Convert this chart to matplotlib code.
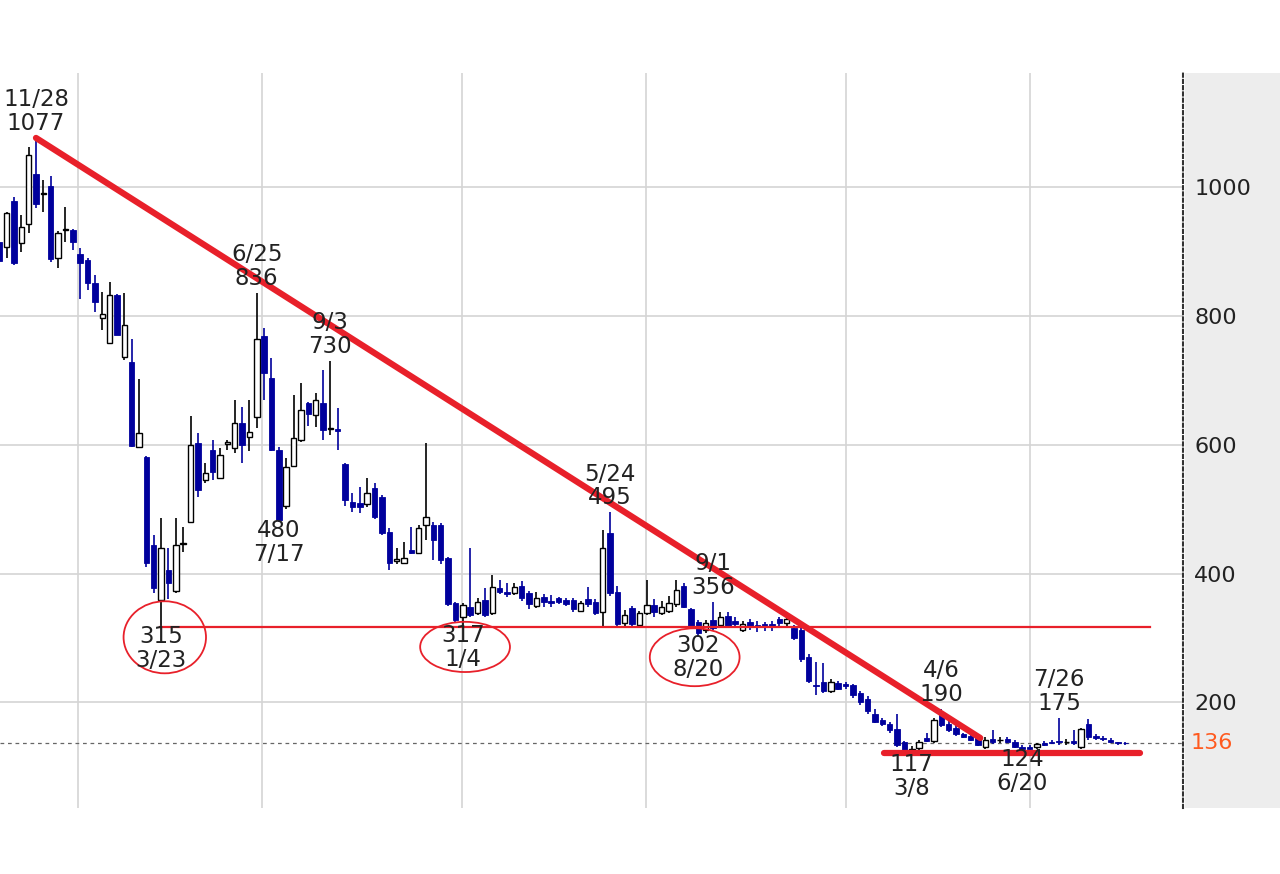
import numpy as np
import matplotlib.pyplot as plt
from matplotlib.patches import Ellipse, Rectangle

# weekly candles (index 0 = week of 2019-10-21)
opens = [915, 908, 979, 914, 943, 1021, 990, 1002, 890, 934, 934, 897, 887, 852, 797, 758, 833, 736, 729, 596,
         581, 444, 359, 405, 373, 446, 480, 603, 545, 592, 549, 601, 595, 634, 612, 643, 769, 704, 592, 505,
         567, 608, 665, 646, 665, 625, 624, 570, 511, 510, 508, 533, 519, 465, 420, 416, 437, 432, 476, 476,
         476, 424, 354, 333, 348, 339, 359, 339, 378, 371, 370, 380, 370, 350, 364, 357, 362, 359, 359, 342,
         360, 356, 340, 463, 372, 323, 346, 320, 339, 351, 339, 342, 352, 381, 345, 325, 312, 328, 320, 334,
         327, 312, 325, 320, 321, 322, 329, 323, 316, 312, 270, 227, 232, 217, 230, 228, 227, 214, 205, 182,
         172, 166, 158, 138, 126, 129, 144, 140, 182, 167, 160, 150, 147, 144, 131, 143, 141, 143, 138, 131,
         131, 130, 137, 139, 140, 138, 140, 131, 167, 147, 145, 142, 138, 137]
highs = [935, 962, 985, 957, 1063, 1077, 1012, 1018, 932, 970, 935, 906, 890, 864, 838, 853, 835, 836, 765, 702,
         583, 460, 486, 440, 486, 472, 645, 618, 572, 608, 595, 608, 670, 659, 670, 836, 782, 735, 596, 580,
         678, 696, 667, 681, 716, 730, 657, 572, 525, 535, 548, 540, 522, 471, 440, 449, 472, 476, 603, 480,
         478, 426, 356, 355, 440, 362, 378, 398, 390, 385, 385, 388, 373, 372, 368, 366, 364, 362, 362, 358,
         379, 360, 468, 495, 380, 343, 350, 342, 390, 360, 358, 365, 390, 386, 347, 328, 328, 356, 340, 340,
         332, 326, 330, 327, 324, 326, 332, 333, 320, 322, 275, 263, 261, 236, 233, 231, 229, 218, 210, 190,
         176, 170, 182, 140, 132, 141, 152, 175, 190, 172, 164, 152, 149, 146, 146, 157, 146, 146, 141, 133,
         134, 136, 140, 142, 175, 143, 157, 160, 174, 150, 147, 144, 139, 138]
lows = [880, 890, 880, 900, 929, 968, 962, 884, 875, 915, 903, 826, 841, 807, 778, 756, 770, 732, 596, 595,
        410, 370, 315, 360, 370, 434, 478, 519, 541, 545, 547, 592, 588, 572, 590, 626, 670, 590, 480, 500,
        565, 605, 630, 628, 608, 615, 592, 505, 496, 494, 503, 485, 460, 405, 415, 415, 430, 430, 452, 421,
        415, 350, 323, 317, 333, 335, 333, 336, 368, 364, 366, 357, 345, 346, 348, 348, 352, 350, 340, 340,
        348, 335, 316, 365, 318, 317, 318, 317, 335, 333, 336, 338, 348, 346, 315, 302, 308, 312, 316, 315,
        318, 309, 312, 309, 310, 311, 318, 318, 296, 262, 230, 211, 214, 214, 219, 220, 207, 196, 182, 168,
        163, 153, 130, 122, 117, 125, 138, 137, 162, 154, 148, 144, 140, 132, 128, 135, 136, 136, 129, 124,
        125, 128, 132, 135, 134, 134, 133, 128, 142, 141, 140, 136, 134, 134]
closes = [885, 960, 883, 939, 1050, 974, 992, 889, 929, 936, 915, 883, 852, 822, 803, 833, 771, 786, 598, 618,
          416, 377, 440, 385, 444, 448, 600, 530, 556, 558, 584, 604, 634, 600, 620, 765, 712, 592, 483, 566,
          611, 654, 648, 670, 623, 627, 622, 514, 503, 503, 525, 488, 463, 416, 422, 424, 432, 471, 488, 452,
          421, 353, 328, 351, 336, 356, 336, 379, 372, 369, 379, 362, 352, 362, 356, 355, 356, 353, 345, 355,
          352, 338, 440, 370, 322, 336, 322, 339, 351, 340, 348, 354, 375, 348, 318, 308, 323, 316, 333, 318,
          322, 322, 318, 318, 318, 318, 323, 330, 300, 268, 233, 226, 218, 232, 221, 226, 212, 200, 187, 170,
          166, 157, 134, 126, 127, 139, 140, 172, 165, 157, 150, 146, 142, 134, 142, 138, 141, 138, 131, 127,
          128, 135, 134, 137, 138, 138, 137, 158, 146, 144, 143, 138, 136, 136]

high_marks = [(5, "11/28"), (35, "6/25"), (45, "9/3"), (83, "5/24"), (97, "9/1"), (128, "4/6"), (144, "7/26")]
low_marks = [(22, "3/23"), (38, "7/17"), (63, "1/4"), (95, "8/20"), (124, "3/8"), (139, "6/20")]

last_price = 136
yticks = [200, 400, 600, 800, 1000]
# first weeks of Jan / Jul
grid_weeks = [10.7, 35.7, 62.9, 87.9, 115.05, 140.05]

trend_line = ([5, 133.3], [1077, 144.5])
support_line = ([21.85, 156.4], [317, 317])
bottom_line = ([120.2, 155.0], [121, 121])
circles = [(22.5, 301, 11.2, 112), (63.3, 286, 12.2, 78), (94.5, 270, 12.2, 90)]

blue = "#00009c"
red = "#e8202a"

fig = plt.figure(figsize=(12.8, 8.74), dpi=100)
ax = fig.add_axes([0, 66 / 874, 1183 / 1280, 735 / 874])
ax.set_zorder(2)
ax.patch.set_alpha(0)
fig.patches.append(Rectangle((1185 / 1280, 66 / 874), 1 - 1185 / 1280, 735 / 874,
                             transform=fig.transFigure, facecolor="#ededed", edgecolor="none", zorder=-1))

x = np.arange(len(opens))
o = np.array(opens); h = np.array(highs); l = np.array(lows); c = np.array(closes)
up = c >= o

# grid
for yt in yticks:
    ax.axhline(yt, color="#d4d4d4", lw=1.2, zorder=0)
for gw in grid_weeks:
    ax.axvline(gw, color="#d4d4d4", lw=1.2, zorder=0)

# wicks and bodies
ax.vlines(x[up], l[up], h[up], color="black", lw=1.2, zorder=2)
ax.vlines(x[~up], l[~up], h[~up], color=blue, lw=1.2, zorder=2)
body = np.maximum(np.abs(c - o), 0.8)
ax.bar(x[up], body[up], bottom=np.minimum(o, c)[up], width=0.74,
       facecolor="white", edgecolor="black", linewidth=1.0, zorder=3)
ax.bar(x[~up], body[~up], bottom=np.minimum(o, c)[~up], width=0.74,
       facecolor=blue, edgecolor=blue, linewidth=0.6, zorder=3)

# last price
ax.axhline(last_price, color="#666666", lw=0.9, ls=(0, (3, 3)), zorder=1)

# red lines
ax.plot(*trend_line, color=red, lw=4.5, solid_capstyle="round", zorder=5)
ax.plot(*support_line, color=red, lw=1.6, zorder=5)
ax.plot(*bottom_line, color=red, lw=4.5, solid_capstyle="round", zorder=5)
for cx, cy, w, hh in circles:
    ax.add_patch(Ellipse((cx, cy), w, hh, fill=False, edgecolor=red, lw=1.3, zorder=5))

# labels
for i, d in high_marks:
    ax.annotate(f"{d}\n{highs[i]}", (i, highs[i]), xytext=(0, 3), textcoords="offset pixels",
                ha="center", va="bottom", fontsize=16.5, linespacing=1.05, color="#222222", zorder=6)
for i, d in low_marks:
    ax.annotate(f"{lows[i]}\n{d}", (i, lows[i]), xytext=(0, 3), textcoords="offset pixels",
                ha="center", va="top", fontsize=16.5, linespacing=1.05, color="#222222", zorder=6)

ax.set_xlim(0.11, 160.85)
ax.set_ylim(35.7, 1177.9)
ax.set_xticks([])
ax.yaxis.tick_right()
ax.set_yticks(yticks)
ax.tick_params(axis="y", length=0, pad=8, labelsize=16, labelcolor="#222222")
for s in ["top", "bottom", "left"]:
    ax.spines[s].set_visible(False)
ax.spines["right"].set_linestyle((0, (1.5, 1.5)))
ax.spines["right"].set_linewidth(1.5)
ax.spines["right"].set_color("#333333")
ax.annotate(str(last_price), (1, last_price), xycoords=ax.get_yaxis_transform(), xytext=(8, 0),
            textcoords="offset pixels", ha="left", va="center", fontsize=16, color="#ff5a1f",
            annotation_clip=False)

fig.savefig("out.png", dpi=100)
